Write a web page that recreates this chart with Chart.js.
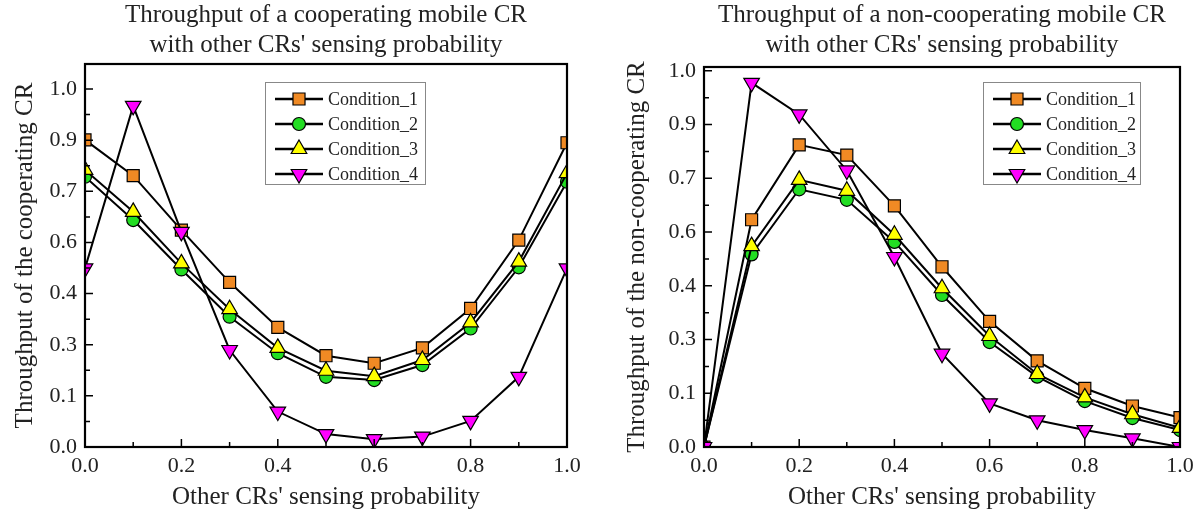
<!DOCTYPE html>
<html>
<head>
<meta charset="utf-8">
<script src="https://cdn.jsdelivr.net/npm/chart.js@4.4.1/dist/chart.umd.min.js"></script>
<style>
  body { margin: 0; background: #fff; }
  #wrap { position: relative; width: 1201px; height: 516px; }
  canvas { position: absolute; top: 0; }
</style>
</head>
<body>
<div id="wrap">
  <canvas id="left" width="600" height="516" style="left:0"></canvas>
  <canvas id="right" width="601" height="516" style="left:600px"></canvas>
</div>
<script>
// other CRs' sensing probability
const probs = [0.0, 0.1, 0.2, 0.3, 0.4, 0.5, 0.6, 0.7, 0.8, 0.9, 1.0];
const names = ['Condition_1', 'Condition_2', 'Condition_3', 'Condition_4'];

// cooperating CR
const coop1 = [0.858, 0.758, 0.606, 0.460, 0.334, 0.255, 0.234, 0.277, 0.387, 0.578, 0.850];
const coop2 = [0.755, 0.634, 0.496, 0.364, 0.262, 0.196, 0.187, 0.229, 0.331, 0.502, 0.741];
const coop3 = [0.774, 0.657, 0.513, 0.385, 0.277, 0.213, 0.198, 0.243, 0.348, 0.518, 0.765];
const coop4 = [0.499, 0.953, 0.601, 0.271, 0.099, 0.036, 0.022, 0.029, 0.073, 0.196, 0.499];

// non-cooperating CR
const nonc1 = [0, 0.604, 0.803, 0.776, 0.641, 0.479, 0.334, 0.229, 0.156, 0.109, 0.078];
const nonc2 = [0, 0.512, 0.685, 0.657, 0.545, 0.404, 0.279, 0.187, 0.122, 0.077, 0.045];
const nonc3 = [0, 0.534, 0.710, 0.681, 0.564, 0.422, 0.295, 0.194, 0.132, 0.087, 0.051];
const nonc4 = [0, 0.968, 0.884, 0.735, 0.505, 0.248, 0.116, 0.071, 0.045, 0.023, 0];

// tick labels as printed on the figure
const xTickText = ['0.0', '0.2', '0.4', '0.6', '0.8', '1.0'];
const yTickText = ['0.0', '0.1', '0.3', '0.4', '0.6', '0.7', '0.9', '1.0'];

const serif = '"Liberation Serif", "Times New Roman", serif';
const looks = [
  { style: 'rect', fill: '#F08A24', r: 8.5, rot: 0 },
  { style: 'circle', fill: '#22DD22', r: 6.5, rot: 0 },
  { style: 'triangle', fill: '#FFFF00', r: 9, rot: 0 },
  { style: 'triangle', fill: '#FF00FF', r: 9, rot: 180 }
];

const xMajor = xTickText.map((t, i) => i / (xTickText.length - 1));
const yMajor = yTickText.map((t, i) => i / (yTickText.length - 1));

function makeSets(series) {
  return series.map((vals, i) => ({
    label: names[i],
    data: probs.map((p, k) => ({ x: p, y: vals[k] })),
    borderColor: '#000',
    borderWidth: 2,
    pointStyle: looks[i].style,
    pointRotation: looks[i].rot,
    pointRadius: looks[i].r,
    pointBackgroundColor: looks[i].fill,
    pointBorderColor: '#000',
    pointBorderWidth: 1.2,
    tension: 0,
    order: 3 - i
  }));
}

const framePlugin = {
  id: 'frame',
  afterDatasetsDraw(chart, args, o) {
    const { ctx, chartArea: a, scales: { x, y } } = chart;
    ctx.save();
    ctx.strokeStyle = '#000';
    ctx.lineWidth = 1.5;
    ctx.beginPath();
    for (let k = 1; k < 10; k++) {
      const px = x.getPixelForValue(k / 10);
      const len = k % 2 === 0 ? 8 : 5;
      ctx.moveTo(px, a.bottom);
      ctx.lineTo(px, a.bottom - len);
    }
    for (let k = 0; k < yMajor.length; k++) {
      let py = y.getPixelForValue(yMajor[k]);
      ctx.moveTo(a.left, py);
      ctx.lineTo(a.left + 8, py);
      if (k < yMajor.length - 1) {
        py = y.getPixelForValue((yMajor[k] + yMajor[k + 1]) / 2);
        ctx.moveTo(a.left, py);
        ctx.lineTo(a.left + 5, py);
      }
    }
    ctx.stroke();
    ctx.lineWidth = 2.2;
    ctx.strokeRect(a.left, a.top, a.right - a.left, a.bottom - a.top);

    // legend box
    const b = o.box;
    ctx.fillStyle = '#fff';
    ctx.fillRect(b.x, b.y, b.w, b.h);
    ctx.strokeStyle = '#888';
    ctx.lineWidth = 1;
    ctx.strokeRect(b.x + 0.5, b.y + 0.5, b.w, b.h);
    chart.data.datasets.forEach((ds, i) => {
      const cy = b.y + 17 + 25 * i;
      ctx.strokeStyle = '#000';
      ctx.lineWidth = 2.5;
      ctx.beginPath();
      ctx.moveTo(b.x + 10, cy);
      ctx.lineTo(b.x + 58, cy);
      ctx.stroke();
      ctx.fillStyle = ds.pointBackgroundColor;
      ctx.lineWidth = 1.2;
      Chart.helpers.drawPoint(ctx, {
        pointStyle: ds.pointStyle, rotation: ds.pointRotation,
        radius: ds.pointRadius, borderWidth: 1.2
      }, b.x + 34, cy);
      ctx.fillStyle = '#222';
      ctx.font = '18px ' + serif;
      ctx.textBaseline = 'middle';
      ctx.textAlign = 'left';
      ctx.fillText(ds.label, b.x + 63, cy + 1);
    });
    ctx.restore();
  },
  afterDraw(chart, args, o) {
    const { ctx, chartArea: a } = chart;
    ctx.save();
    ctx.fillStyle = '#222';
    ctx.font = '25px ' + serif;
    ctx.textAlign = 'center';
    ctx.textBaseline = 'middle';
    const cx = (a.left + a.right) / 2;
    o.lines.forEach((t, i) => ctx.fillText(t, cx, 15 + 30 * i));
    ctx.restore();
  }
};

function build(id, series, cfg) {
  const font = { family: serif, size: 22 };
  const tfont = { family: serif, size: 25 };
  return new Chart(document.getElementById(id), {
    type: 'line',
    data: { datasets: makeSets(series) },
    plugins: [framePlugin],
    options: {
      responsive: false,
      animation: false,
      events: [],
      layout: { padding: { top: cfg.top, right: cfg.right, left: 0, bottom: 0 } },
      plugins: {
        legend: { display: false },
        tooltip: { enabled: false },
        frame: { box: cfg.box, lines: cfg.title }
      },
      scales: {
        x: {
          type: 'linear', min: 0, max: 1,
          afterBuildTicks: s => { s.ticks = xMajor.map(v => ({ value: v })); },
          afterFit: s => { s.height = 69; },
          ticks: {
            font: font, color: '#222', padding: 6, maxRotation: 0, autoSkip: false,
            callback: (v, i) => xTickText[i]
          },
          grid: { display: false, drawTicks: false },
          border: { display: false },
          title: { display: true, text: "Other CRs' sensing probability", font: tfont, color: '#222', padding: { top: 0, bottom: 4 } }
        },
        y: {
          type: 'linear', min: 0, max: cfg.ymax,
          afterBuildTicks: s => { s.ticks = yMajor.map(v => ({ value: v })); },
          afterFit: s => { s.width = cfg.yw; },
          ticks: {
            font: font, color: '#222', padding: 8, autoSkip: false,
            callback: (v, i) => yTickText[i]
          },
          grid: { display: false, drawTicks: false },
          border: { display: false },
          title: { display: true, text: cfg.ytitle, font: tfont, color: '#222', padding: { top: cfg.ytp, bottom: 0 } }
        }
      }
    }
  });
}

build('left', [coop1, coop2, coop3, coop4], {
  top: 64, right: 33, yw: 85, ytp: 10, ymax: 1.07,
  ytitle: 'Throughput of the cooperating CR',
  title: ['Throughput of a cooperating mobile CR', "with other CRs' sensing probability"],
  box: { x: 265, y: 82, w: 160, h: 102 }
});

build('right', [nonc1, nonc2, nonc3, nonc4], {
  top: 67, right: 21, yw: 104, ytp: 22, ymax: 1.01,
  ytitle: 'Throughput of the non-cooperating CR',
  title: ['Throughput of a non-cooperating mobile CR', "with other CRs' sensing probability"],
  box: { x: 383, y: 82, w: 157, h: 102 }
});
</script>
</body>
</html>
